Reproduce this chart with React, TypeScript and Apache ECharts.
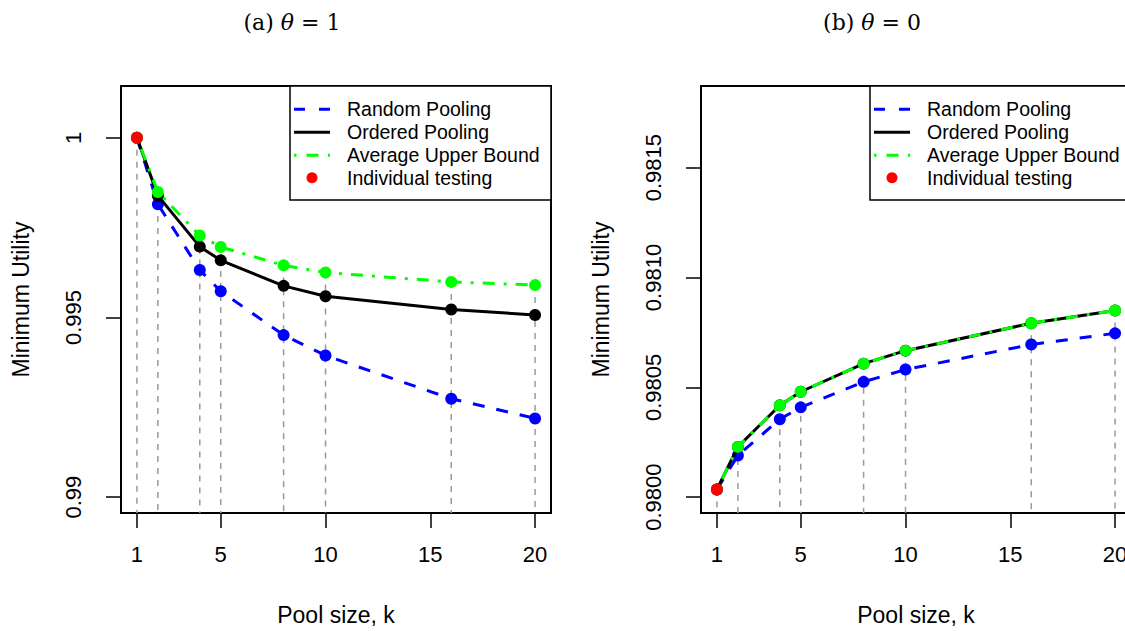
import React, { useEffect, useRef } from 'react';
import * as echarts from 'echarts';

// ---- data ----
const POOL_SIZES = [1, 2, 4, 5, 8, 10, 16, 20];
const X_TICKS = [1, 5, 10, 15, 20];
const LEFT_Y_TICKS = [0.99, 0.995, 1];
const RIGHT_Y_TICKS = [0.98, 0.9805, 0.981, 0.9815];
const LEFT_YLIM = [0.99, 1.001];
const RIGHT_YLIM = [0.98, 0.9818];
const XLIM = [1, 20];

const LEFT_RANDOM = [1, 0.99815, 0.99632, 0.99573, 0.99451, 0.99394, 0.99274, 0.99219];
const LEFT_ORDERED = [1, 0.99839, 0.99697, 0.99659, 0.99588, 0.99559, 0.99522, 0.99507];
const LEFT_UPPER = [1, 0.99849, 0.99728, 0.99696, 0.99645, 0.99625, 0.99599, 0.9959];
const LEFT_INDIVIDUAL = [1];

const RIGHT_RANDOM = [0.980035, 0.98019, 0.980355, 0.980409, 0.980525, 0.980581, 0.980695, 0.980746];
const RIGHT_ORDERED = [0.980035, 0.980229, 0.980418, 0.98048, 0.980608, 0.980667, 0.980792, 0.98085];
const RIGHT_UPPER = [0.980035, 0.980229, 0.980418, 0.98048, 0.980608, 0.980667, 0.980792, 0.98085];
const RIGHT_INDIVIDUAL = [0.980035];

const LEGEND_ITEMS = ['Random Pooling', 'Ordered Pooling', 'Average Upper Bound', 'Individual testing'];
const TITLES = ['(a) {i|θ} = 1', '(b) {i|θ} = 0'];
const X_NAME = 'Pool size, k';
const Y_NAME = 'Minimum Utility';

// ---- styles ----
const SANS = 'Liberation Sans, Arial, sans-serif';
const SERIF = 'DejaVu Serif, serif';
const BLUE = '#0000ff';
const GREEN = '#00ff00';
const RED = '#ff0000';
const GRAY = '#9a9a9a';
const DASH = [12, 12];
const DOTDASH = [3, 9, 12, 9];

const pad = (lim: number[]) => {
  const d = (lim[1] - lim[0]) * 0.04;
  return [lim[0] - d, lim[1] + d];
};

const pts = (vals: number[]) => vals.map((v, i) => [POOL_SIZES[i], v]);

function panelSeries(idx: number, random: number[], ordered: number[], upper: number[], indiv: number[], yMin: number) {
  return [
    {
      type: 'custom',
      xAxisIndex: idx,
      yAxisIndex: idx,
      coordinateSystem: 'cartesian2d',
      data: pts(upper),
      z: 1,
      renderItem: (params: any, api: any) => {
        const x = api.value(0);
        const y = api.value(1);
        const p1 = api.coord([x, y]);
        const p2 = api.coord([x, yMin]);
        return {
          type: 'line',
          shape: { x1: p1[0], y1: p1[1], x2: p2[0], y2: p2[1] },
          style: { stroke: GRAY, lineWidth: 1.5, lineDash: [6, 6] },
        };
      },
    },
    {
      type: 'line',
      xAxisIndex: idx,
      yAxisIndex: idx,
      data: pts(random),
      symbol: 'circle',
      symbolSize: 12,
      lineStyle: { color: BLUE, width: 3, type: DASH },
      itemStyle: { color: BLUE },
      z: 2,
    },
    {
      type: 'line',
      xAxisIndex: idx,
      yAxisIndex: idx,
      data: pts(ordered),
      symbol: 'circle',
      symbolSize: 12,
      lineStyle: { color: '#000', width: 3 },
      itemStyle: { color: '#000' },
      z: 3,
    },
    {
      type: 'line',
      xAxisIndex: idx,
      yAxisIndex: idx,
      data: pts(upper),
      symbol: 'circle',
      symbolSize: 12,
      lineStyle: { color: GREEN, width: 3, type: DOTDASH },
      itemStyle: { color: GREEN },
      z: 4,
    },
    {
      type: 'scatter',
      xAxisIndex: idx,
      yAxisIndex: idx,
      data: pts(indiv),
      symbol: 'circle',
      symbolSize: 12,
      itemStyle: { color: RED, opacity: 1 },
      z: 5,
    },
  ];
}

function legendGraphic(x: number, y: number) {
  const rowY = [23.3, 46.3, 69.3, 91.7];
  const children: any[] = [
    {
      type: 'rect',
      shape: { x: 0, y: 0, width: 261, height: 114 },
      style: { fill: '#fff', stroke: '#000', lineWidth: 1.5 },
    },
    {
      type: 'line',
      shape: { x1: 4, y1: rowY[0], x2: 40, y2: rowY[0] },
      style: { stroke: BLUE, lineWidth: 3, lineDash: [11, 14] },
    },
    {
      type: 'line',
      shape: { x1: 4, y1: rowY[1], x2: 40, y2: rowY[1] },
      style: { stroke: '#000', lineWidth: 3 },
    },
    {
      type: 'line',
      shape: { x1: 4, y1: rowY[2], x2: 40, y2: rowY[2] },
      style: { stroke: GREEN, lineWidth: 3, lineDash: [2.5, 10, 12, 9.5] },
    },
    {
      type: 'circle',
      shape: { cx: 22, cy: rowY[3], r: 5.5 },
      style: { fill: RED },
    },
  ];
  LEGEND_ITEMS.forEach((t, i) => {
    children.push({
      type: 'text',
      x: 57,
      y: rowY[i],
      style: { text: t, font: `19.5px ${SANS}`, fill: '#000', verticalAlign: 'middle', align: 'left' },
    });
  });
  return { type: 'group', x, y, z: 100, children };
}

function xAxis(gridIndex: number) {
  return {
    type: 'value',
    gridIndex,
    min: XLIM[0] - (XLIM[1] - XLIM[0]) * 0.04,
    max: XLIM[1] + (XLIM[1] - XLIM[0]) * 0.04,
    name: X_NAME,
    nameLocation: 'middle',
    nameGap: 90,
    nameTextStyle: { fontFamily: SANS, fontSize: 23, color: '#000' },
    splitLine: { show: false },
    axisLine: { show: true, onZero: false, lineStyle: { color: '#000', width: 2 } },
    axisTick: { show: true, customValues: X_TICKS, length: 15, lineStyle: { color: '#000', width: 1.5 } },
    axisLabel: { customValues: X_TICKS, margin: 30, fontFamily: SANS, fontSize: 22, color: '#000' },
  };
}

function yAxis(gridIndex: number, lim: number[], ticks: number[], digits: number | null) {
  const r = pad(lim);
  return {
    type: 'value',
    gridIndex,
    min: r[0],
    max: r[1],
    name: Y_NAME,
    nameLocation: 'middle',
    nameRotate: 90,
    nameGap: 89,
    nameTextStyle: { fontFamily: SANS, fontSize: 23, color: '#000' },
    splitLine: { show: false },
    axisLine: { show: true, onZero: false, lineStyle: { color: '#000', width: 2 } },
    axisTick: { show: true, customValues: ticks, length: 15, lineStyle: { color: '#000', width: 1.5 } },
    axisLabel: {
      customValues: ticks,
      rotate: 90,
      margin: 37,
      fontFamily: SANS,
      fontSize: 22,
      color: '#000',
      formatter: (v: number) => (digits === null ? String(+v.toFixed(6)) : v.toFixed(digits)),
    },
  };
}

export default function App() {
  const ref = useRef<HTMLDivElement>(null);
  useEffect(() => {
    if (!ref.current) return;
    const chart = echarts.init(ref.current, null, { renderer: 'svg' });
    const leftY = pad(LEFT_YLIM);
    const rightY = pad(RIGHT_YLIM);
    chart.setOption({
      animation: false,
      backgroundColor: '#fff',
      grid: [
        { left: 121, top: 86, width: 430, height: 430, show: true, borderColor: '#000', borderWidth: 2, backgroundColor: 'transparent' },
        { left: 701, top: 86, width: 430, height: 430, show: true, borderColor: '#000', borderWidth: 2, backgroundColor: 'transparent' },
      ],
      xAxis: [xAxis(0), xAxis(1)],
      yAxis: [yAxis(0, LEFT_YLIM, LEFT_Y_TICKS, null), yAxis(1, RIGHT_YLIM, RIGHT_Y_TICKS, 4)],
      series: [
        ...panelSeries(0, LEFT_RANDOM, LEFT_ORDERED, LEFT_UPPER, LEFT_INDIVIDUAL, leftY[0]),
        ...panelSeries(1, RIGHT_RANDOM, RIGHT_ORDERED, RIGHT_UPPER, RIGHT_INDIVIDUAL, rightY[0]),
      ],
      graphic: [
        legendGraphic(290, 86),
        legendGraphic(870, 86),
        {
          type: 'text',
          x: 292,
          y: 22,
          z: 100,
          style: {
            text: TITLES[0],
            font: `22px ${SERIF}`,
            fill: '#000',
            align: 'center',
            verticalAlign: 'middle',
            rich: { i: { fontStyle: 'italic', fontFamily: SERIF, fontSize: 22 } },
          },
        },
        {
          type: 'text',
          x: 872,
          y: 22,
          z: 100,
          style: {
            text: TITLES[1],
            font: `22px ${SERIF}`,
            fill: '#000',
            align: 'center',
            verticalAlign: 'middle',
            rich: { i: { fontStyle: 'italic', fontFamily: SERIF, fontSize: 22 } },
          },
        },
      ],
    });
    return () => chart.dispose();
  }, []);
  return (
    <div style={{ position: 'fixed', left: 0, top: 0, width: 1125, height: 631, overflow: 'hidden', background: '#fff' }}>
      <div ref={ref} style={{ position: 'absolute', left: 0, top: 0, width: 1145, height: 631 }} />
    </div>
  );
}
